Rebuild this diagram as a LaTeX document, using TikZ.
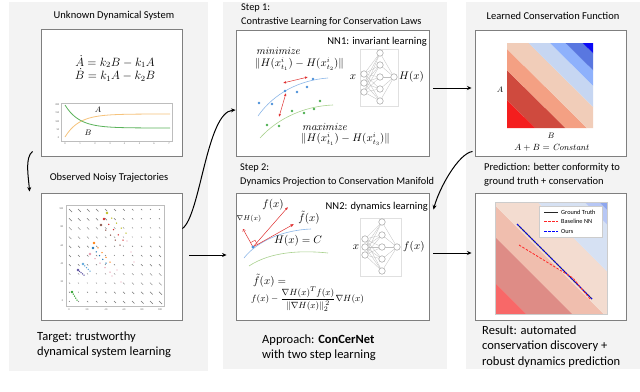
\documentclass[tikz,border=0pt]{standalone}
\usepackage{amsmath,amssymb}
\usepackage[no-math]{fontspec}
\setmainfont{Carlito}
\setsansfont{Carlito}
\usepackage{tikz}
\usetikzlibrary{arrows.meta,calc,positioning}

\definecolor{panelgray}{HTML}{F3F3F3}
\definecolor{boxgray}{HTML}{7F7F7F}
\definecolor{plotgray}{HTML}{BDBDBD}
\definecolor{curveA}{HTML}{F6C37C}
\definecolor{curveB}{HTML}{5BB35B}
\definecolor{pointblue}{HTML}{4A90D9}
\definecolor{pointgreen}{HTML}{4CAF50}
\definecolor{manifoldblue}{HTML}{8DB8E8}
\definecolor{manifoldgreen}{HTML}{A9D18E}
\definecolor{pairred}{HTML}{E03232}
% learned conservation function
\definecolor{hmA}{HTML}{F41E1E}
\definecolor{hmB}{HTML}{CF4A3E}
\definecolor{hmC}{HTML}{F4A083}
\definecolor{hmD}{HTML}{F1CDB9}
\definecolor{hmE}{HTML}{C6D6F2}
\definecolor{hmF}{HTML}{8EB1FC}
\definecolor{hmG}{HTML}{5977E0}
\definecolor{hmH}{HTML}{0A0AF5}
% prediction plot
\definecolor{pdA}{HTML}{F86868}
\definecolor{pdB}{HTML}{DE8C86}
\definecolor{pdC}{HTML}{F0BEAE}
\definecolor{pdD}{HTML}{F3DCD0}
\definecolor{pdE}{HTML}{D6E1F3}
\definecolor{pdF}{HTML}{B7C7F5}
\definecolor{pdG}{HTML}{8FA7EE}
% trajectories
\definecolor{trOlive}{HTML}{BCBD22}
\definecolor{trRed}{HTML}{D62728}
\definecolor{trBrown}{HTML}{8C564B}
\definecolor{trOrange}{HTML}{FF7F0E}
\definecolor{trBlue}{HTML}{1F77B4}
\definecolor{trPink}{HTML}{E89AAE}
\definecolor{trSky}{HTML}{5DA5DA}
\definecolor{trPurple}{HTML}{5A4FA0}
\definecolor{trGreen}{HTML}{2CA02C}

\tikzset{
  panel/.style={
    fill=panelgray,
    draw=none
  }
}
\tikzset{
  figure box/.style={
    rectangle,
    draw=boxgray,
    fill=white,
    line width=0.9pt,
    inner sep=0pt
  }
}
\tikzset{
  panel title/.style={
    inner sep=0pt,
    font=\fontsize{10.5}{12}\selectfont
  }
}
\tikzset{
  step title/.style={
    inner sep=0pt,
    align=left,
    anchor=west,
    font=\fontsize{10.3}{14}\selectfont
  }
}
\tikzset{
  caption text/.style={
    inner sep=0pt,
    align=left,
    anchor=west,
    font=\fontsize{12.5}{15.3}\selectfont
  }
}
\tikzset{
  net title/.style={
    inner sep=0pt,
    anchor=east,
    font=\fontsize{10.5}{12}\selectfont
  }
}
\tikzset{
  math label/.style={
    inner sep=0pt,
    font=\fontsize{10.5}{12}\selectfont
  }
}
\tikzset{
  flow/.style={
    -{Stealth[length=4.5pt,width=4pt]},
    draw=black,
    line width=1pt
  }
}
\tikzset{
  neuron/.style={
    circle,
    draw=black!45,
    fill=white,
    line width=0.4pt,
    minimum size=6.5pt,
    inner sep=0pt
  }
}
\tikzset{
  synapse/.style={
    draw=black!25,
    line width=0.3pt
  }
}
\tikzset{
  pair arrow/.style={
    {Latex[length=3pt,width=2.5pt]}-{Latex[length=3pt,width=2.5pt]},
    draw=pairred,
    line width=0.5pt
  }
}
\tikzset{
  vector arrow/.style={
    -{Latex[length=3pt,width=2.5pt]},
    draw=pairred,
    line width=0.5pt
  }
}
\tikzset{
  tick label/.style={
    inner sep=0pt,
    text=black!60,
    font=\fontsize{2.6}{3}\selectfont
  }
}
\tikzset{
  legend text/.style={
    inner sep=0pt,
    anchor=west,
    font=\fontsize{6.3}{7}\selectfont
  }
}
\tikzset{
  quiver/.style={
    draw=black!55,
    line width=0.45pt
  }
}

\begin{document}
\begin{tikzpicture}[x=1pt,y=-1pt]

    \useasboundingbox (0,0) rectangle (640,391);

    % ------------------------------------------------------------
    % Panels
    % ------------------------------------------------------------

    \fill[panel] (9,2) rectangle (208,371);
    \fill[panel] (223,2) rectangle (447,369);
    \fill[panel] (466,2) rectangle (640,369);

    % ------------------------------------------------------------
    % Boxes
    % ------------------------------------------------------------

    \node[figure box, minimum width=141pt, minimum height=127pt] (sysbox) at (111.5,92.5) {};
    \node[figure box, minimum width=141pt, minimum height=127pt] (trajbox) at (111.5,256.5) {};
    \node[figure box, minimum width=193pt, minimum height=126pt] (step1box) at (332.5,93) {};
    \node[figure box, minimum width=193pt, minimum height=127pt] (step2box) at (332.5,256.5) {};
    \node[figure box, minimum width=151pt, minimum height=126pt] (lawbox) at (550.5,93) {};
    \node[figure box, minimum width=151pt, minimum height=127pt] (predbox) at (550.5,256.5) {};

    % ------------------------------------------------------------
    % Titles and captions
    % ------------------------------------------------------------

    \node[panel title] (systitle) at (114,16) {Unknown Dynamical System};
    \node[panel title] (trajtitle) at (109,177.5) {Observed Noisy Trajectories};
    \node[caption text] (target) at (37,344.5)
    {
      Target: trustworthy\\
      dynamical system learning
    };

    \node[step title] (step1title) at (241,15)
    {
      Step 1:\\
      Contrastive Learning for Conservation Laws
    };
    \node[step title] (step2title) at (240,175.5)
    {
      Step 2:\\
      Dynamics Projection to Conservation Manifold
    };
    \node[caption text] (approach) at (262,347.5)
    {
      Approach: \textbf{ConCerNet}\\
      with two step learning
    };

    \node[panel title] (lawtitle) at (553,16) {Learned Conservation Function};
    \node[step title, font=\fontsize{10.5}{14}\selectfont] (predtitle) at (484,175)
    {
      Prediction: better conformity to\\
      ground truth + conservation
    };
    \node[caption text] (result) at (482,346.5)
    {
      Result: automated\\
      conservation discovery +\\
      robust dynamics prediction
    };

    % ------------------------------------------------------------
    % Unknown dynamical system
    % ------------------------------------------------------------

    \node[math label, font=\fontsize{12}{13}\selectfont] (odeA) at (115,61.5) {$\dot A = k_2 B - k_1 A$};
    \node[math label, font=\fontsize{12}{13}\selectfont] (odeB) at (115,75) {$\dot B = k_1 A - k_2 B$};

    \draw[plotgray, line width=0.3pt] (61,103.5) rectangle (172,141);
    \foreach \v/\yy in {200/105,150/113,100/122,50/130,0/138}
      \node[tick label, anchor=east] (ty\v) at (59.5,\yy) {\v};
    \foreach \v/\xx in {0/65,1/80,2/95,3/110,4/124.5,5/139.5,6/154,7/169}
      \node[tick label] (tx\v) at (\xx,144) {\v};

    \draw[curveA, line width=0.8pt] plot[domain=65:170, samples=40]
      (\x, {137-23*(1-exp(-(\x-65)/14))});
    \draw[curveB, line width=0.8pt] plot[domain=65:170, samples=40]
      (\x, {105+23*(1-exp(-(\x-65)/14))});

    \node[math label, font=\fontsize{8.5}{9}\selectfont] (labA) at (98,110) {$A$};
    \node[math label, font=\fontsize{8.5}{9}\selectfont] (labB) at (88,133) {$B$};

    % ------------------------------------------------------------
    % Observed noisy trajectories
    % ------------------------------------------------------------

    \draw[plotgray, line width=0.3pt] (66,205) rectangle (164,306);
    \foreach \v/\yy in {100/209,80/227,60/246,40/264,20/282,0/301}
      \node[tick label, anchor=east] (qy\v) at (63.5,\yy) {\v};
    \foreach \v/\xx in {0/69,20/87,40/106,60/124,80/142,100/160}
      \node[tick label] (qx\v) at (\xx,310) {\v};

    \foreach \i in {0,...,10}
      \foreach \j in {0,...,10}
      {
        \pgfmathsetmacro{\len}{0.7+0.24*abs(\i-\j)}
        \draw[quiver] ({69+9*\i},{301-9.2*\j}) -- ++(\len,\len);
      }

    \foreach \xa/\ya/\xb/\yb/\col in {
        107/213/126/233/trOlive,
        104/219/123/240/trRed,
        101/225/120/245/trBrown,
        94/243/110/262/trOrange,
        93/248/106/263/trBlue,
        90/254/110/272/trPink,
        83/264/90/271/trSky,
        78/270/84/275/trPurple,
        72/292/77/300/trGreen}
    {
      \foreach \t in {0.25,0.5,0.75,1}
        \fill[\col] ($(\xa,\ya)!\t!(\xb,\yb)$) circle (0.75pt);
      \fill[\col] (\xa,\ya) circle (1.3pt);
    }
    \foreach \xx/\yy in {127/241,131/252,117/270,121/282,112/276,134/262}
      \fill[trPink] (\xx,\yy) circle (0.7pt);

    % ------------------------------------------------------------
    % Step 1: contrastive learning
    % ------------------------------------------------------------

    \node[net title] (nn1) at (427,42) {NN1: invariant learning};

    \node[math label, anchor=west] (mintext) at (256,51) {$\mathit{minimize}$};
    \node[math label, anchor=west] (minloss) at (255,64)
      {$\|H(x^{i}_{t_1}) - H(x^{i}_{t_2})\|$};
    \node[math label, anchor=west] (maxtext) at (302,127) {$\mathit{maximize}$};
    \node[math label, anchor=west] (maxloss) at (301,139.5)
      {$\|H(x^{i}_{t_1}) - H(x^{i}_{t_3})\|$};

    \draw[manifoldblue, line width=0.6pt] (258,116) .. controls (274,93) and (300,80) .. (328,78);
    \draw[manifoldgreen, line width=0.6pt] (260,138) .. controls (278,118) and (305,106) .. (333,105);

    \foreach \xx/\yy in {259/103,272/104,285/91,297/92,307/87,313/79}
      \fill[pointblue] (\xx,\yy) circle (1.3pt);
    \foreach \xx/\yy in {267/125,279/126,292/111,304/113,314/109,320/101}
      \fill[pointgreen] (\xx,\yy) circle (1.3pt);

    \coordinate (pairA) at (283,83);
    \coordinate (pairB) at (308,77);
    \coordinate (pairC) at (286,93);
    \coordinate (pairD) at (279,117);
    \draw[pair arrow] (pairA) -- (pairB);
    \draw[pair arrow] (pairC) -- (pairD);

    \node[draw=black!12, fill=white, minimum width=38pt, minimum height=57pt, inner sep=0pt] (net1) at (379,77.5) {};
    \foreach \k/\yy in {1/74,2/83,3/92}
      \node[neuron] (ina\k) at (364,\yy) {};
    \foreach \k/\yy in {1/53,2/65,3/77,4/89,5/101}
      \node[neuron] (hida\k) at (380,\yy) {};
    \node[neuron] (outa) at (394,77) {};
    \foreach \i in {1,2,3}
      \foreach \j in {1,...,5}
        \draw[synapse] (ina\i) -- (hida\j);
    \foreach \j in {1,...,5}
      \draw[synapse] (hida\j) -- (outa);

    \node[math label, font=\fontsize{11}{12}\selectfont] (xa) at (353,77) {$x$};
    \node[math label, font=\fontsize{11}{12}\selectfont, anchor=west] (Ha) at (399,77) {$H(x)$};

    % ------------------------------------------------------------
    % Step 2: projection
    % ------------------------------------------------------------

    \node[net title] (nn2) at (428,207) {NN2: dynamics learning};

    \draw[manifoldblue, line width=0.6pt] (244,258) .. controls (258,240) and (285,230) .. (311,229);
    \draw[manifoldgreen, line width=0.6pt] (249,266) .. controls (270,252) and (300,250) .. (328,253);

    \coordinate (base) at (253,247);
    \coordinate (ftip) at (288,207);
    \coordinate (fproj) at (294,224);
    \coordinate (gtip) at (243,229);

    \draw[vector arrow] (base) -- (ftip);
    \draw[vector arrow, -{Latex[length=3.5pt,width=3pt]}] (base) -- (fproj);
    \draw[vector arrow, -{Straight Barb[length=2pt,width=3pt]}] (base) -- (gtip);
    \draw[pairred, line width=0.4pt] (250.6,242.6) -- (255,240.2) -- (257.4,244.6);
    \fill[pointblue] (base) circle (1.6pt);

    \node[math label] (flab) at (273,205) {$f(x)$};
    \node[math label, font=\fontsize{7.5}{8}\selectfont] (glab) at (249,219) {$\nabla H(x)$};
    \node[math label] (ftlab) at (309,218) {$\tilde f(x)$};
    \node[math label] (level) at (298,241) {$H(x) = C$};

    \node[math label, anchor=west] (ftdef) at (253,281) {$\tilde f(x) =$};
    \node[math label, anchor=west, font=\fontsize{9.5}{10}\selectfont] (projeq) at (251,299)
      {$f(x) - \dfrac{\nabla H(x)^{T} f(x)}{\|\nabla H(x)\|_2^{\,2}}\nabla H(x)$};

    \node[draw=black!12, fill=white, minimum width=41pt, minimum height=58pt, inner sep=0pt] (net2) at (380.5,247) {};
    \foreach \k/\yy in {1/239,2/247,3/255}
      \node[neuron] (inb\k) at (365,\yy) {};
    \foreach \k/\yy in {1/222,2/235,3/247,4/259,5/271}
      \node[neuron] (hidb\k) at (382,\yy) {};
    \node[neuron] (outb) at (397,247) {};
    \foreach \i in {1,2,3}
      \foreach \j in {1,...,5}
        \draw[synapse] (inb\i) -- (hidb\j);
    \foreach \j in {1,...,5}
      \draw[synapse] (hidb\j) -- (outb);

    \node[math label, font=\fontsize{11}{12}\selectfont] (xb) at (356,247) {$x$};
    \node[math label, font=\fontsize{11}{12}\selectfont, anchor=west] (fb) at (403,247) {$f(x)$};

    % ------------------------------------------------------------
    % Learned conservation function
    % ------------------------------------------------------------

    \begin{scope}[shift={(507,128)}, x=86pt, y=85pt]
      \clip (0,0) rectangle (1,1);
      \foreach \lo/\hi/\col in {0/0.33/hmA, 0.33/0.68/hmB, 0.68/0.93/hmC, 0.93/1.25/hmD,
                               1.25/1.5/hmE, 1.5/1.68/hmF, 1.68/1.88/hmG, 1.88/2.1/hmH}
        \fill[\col] (\lo,0) -- (0,\lo) -- (0,\hi) -- (\hi,0) -- cycle;
    \end{scope}

    \node[math label, font=\fontsize{8.5}{9}\selectfont] (axA) at (500,90) {$A$};
    \node[math label, font=\fontsize{8.5}{9}\selectfont] (axB) at (551,136) {$B$};
    \node[math label, font=\fontsize{9}{10}\selectfont] (constlaw) at (552,147.5) {$A + B = \mathit{Constant}$};

    % ------------------------------------------------------------
    % Prediction
    % ------------------------------------------------------------

    \begin{scope}[shift={(495,314)}, x=112pt, y=112pt]
      \clip (0,0) rectangle (1,1);
      \foreach \lo/\hi/\col in {0/0.28/pdA, 0.28/0.69/pdB, 0.69/0.97/pdC, 0.97/1.38/pdD,
                               1.38/1.8/pdE, 1.8/1.93/pdF, 1.93/2.1/pdG}
        \fill[\col] (\lo,0) -- (0,\lo) -- (0,\hi) -- (\hi,0) -- cycle;
    \end{scope}
    \draw[black!20, line width=0.4pt] (495,202) rectangle (607,314);

    \coordinate (gtA) at (517,224);
    \coordinate (gtB) at (592,299);
    \coordinate (bnA) at (519,245);
    \coordinate (bnB) at (573,278);
    \draw[black!85, line width=0.8pt] (gtA) -- (gtB);
    \draw[blue, line width=0.8pt, dash pattern=on 2.5pt off 1.5pt] (gtA) -- (gtB);
    \draw[red!85, line width=0.8pt, dash pattern=on 2.5pt off 1.5pt] (bnA) -- (bnB) -- ($(gtB)+(-2,0)$);

    \node[draw=black!20, fill=white, line width=0.3pt, minimum width=63pt, minimum height=31pt, inner sep=0pt] (legend) at (571,221.5) {};
    \draw[black!85, line width=0.8pt] (544,212) -- (558,212);
    \draw[red!85, line width=0.8pt, dash pattern=on 2.5pt off 1.5pt] (544,221.5) -- (558,221.5);
    \draw[blue, line width=0.8pt, dash pattern=on 2.5pt off 1.5pt] (544,231) -- (558,231);
    \node[legend text] (leggt) at (561,212) {Ground Truth};
    \node[legend text] (legbn) at (561,221.5) {Baseline NN};
    \node[legend text] (legours) at (561,231) {Ours};

    % ------------------------------------------------------------
    % Flow between panels
    % ------------------------------------------------------------

    \draw[flow]
      ([xshift=-8pt,yshift=5pt]sysbox.south west)
      .. controls +(-8,6) and +(-1,-14) ..
      ([xshift=-11pt,yshift=1pt]trajbox.north west);

    \draw[flow]
      ([yshift=28pt]trajbox.east)
      .. controls +(18,-13) and +(-29,2) ..
      ([yshift=-17pt]step1box.west);

    \draw[flow, shorten <=7pt, shorten >=9pt]
      ([yshift=1.5pt]trajbox.east)
      --
      ([yshift=1.5pt]step2box.west);

    \draw[flow, shorten <=4pt, shorten >=3pt]
      ([yshift=5pt]step1box.east)
      --
      ([yshift=5pt]lawbox.west);

    \draw[flow]
      ([xshift=-2pt,yshift=5pt]lawbox.south west)
      .. controls +(-14,2) and +(6,-22) ..
      ([xshift=4pt,yshift=-17pt]step2box.north east);

    \draw[flow, shorten <=4pt, shorten >=3pt]
      ([yshift=3.5pt]step2box.east)
      --
      ([yshift=3.5pt]predbox.west);

    \end{tikzpicture}
\end{document}
